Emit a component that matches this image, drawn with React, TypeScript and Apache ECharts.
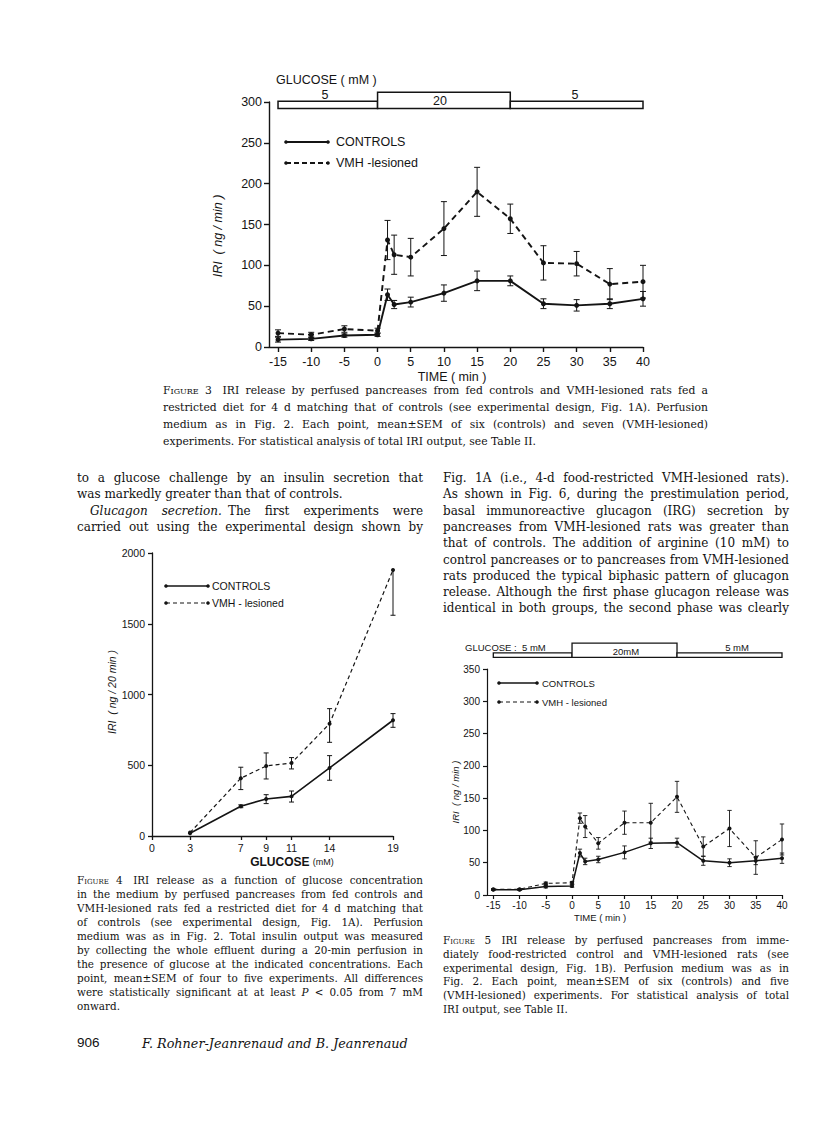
import React, { useEffect, useRef } from "react";
import * as echarts from "echarts";

// ---------------- Figure 3 data ----------------
const fig3Time = [-15, -10, -5, 0, 1.5, 2.5, 5, 10, 15, 20, 25, 30, 35, 40];
const fig3Controls = [9, 10, 14, 15, 64, 52, 55, 66, 81, 81, 53, 51, 53, 59];
const fig3ControlsSem = [3, 2, 2, 2, 7, 5, 6, 10, 12, 6, 6, 7, 6, 9];
const fig3Vmh = [17, 15, 22, 20, 131, 113, 110, 145, 190, 157, 103, 102, 77, 80];
const fig3VmhSem = [4, 3, 4, 3, 24, 24, 23, 33, 30, 18, 21, 15, 19, 20];
const fig3TimeTicks = [-15, -10, -5, 0, 5, 10, 15, 20, 25, 30, 35, 40];
const fig3GlucoseStart = [-15, 0, 20];
const fig3GlucoseEnd = [0, 20, 40];
const fig3GlucoseConc = [5, 20, 5];

// ---------------- Figure 4 data ----------------
const fig4Glucose = [3, 7, 9, 11, 14, 19];
const fig4GlucoseTicks = [0, 3, 7, 9, 11, 14, 19];
const fig4Controls = [20, 210, 262, 280, 481, 818];
const fig4ControlsSemLow = [0, 10, 33, 40, 87, 50];
const fig4ControlsSemHigh = [0, 10, 30, 38, 87, 47];
const fig4Vmh = [24, 408, 495, 516, 794, 1880];
const fig4VmhSemLow = [0, 80, 92, 42, 132, 320];
const fig4VmhSemHigh = [0, 78, 92, 38, 106, 0];

// ---------------- Figure 5 data ----------------
const fig5Time = [-15, -10, -5, 0, 1.5, 2.5, 5, 10, 15, 20, 25, 30, 35, 40];
const fig5Controls = [8, 8, 13, 14, 65, 52, 55, 66, 80, 81, 53, 50, 53, 57];
const fig5ControlsSem = [1, 1, 2, 2, 6, 5, 5, 10, 8, 7, 7, 6, 6, 8];
const fig5Vmh = [9, 9, 18, 19, 119, 106, 80, 112, 112, 152, 75, 103, 58, 86];
const fig5VmhSem = [1, 1, 2, 2, 8, 17, 9, 18, 30, 24, 15, 28, 26, 24];
const fig5TimeTicks = [-15, -10, -5, 0, 5, 10, 15, 20, 25, 30, 35, 40];
const fig5GlucoseStart = [-15, 0, 20];
const fig5GlucoseEnd = [0, 20, 40];
const fig5GlucoseConc = [5, 20, 5];

// ---------------- Page constants ----------------
const W = 816;
const H = 1127;
const SANS = '"Liberation Sans", Arial, sans-serif';
const NARROW = '"Liberation Sans Narrow", "Liberation Sans", Arial, sans-serif';
const SERIF = '"DejaVu Serif", "Liberation Serif", serif';
const INK = "#141414";

function errRender(capHalf: number, lw: number) {
  return (params: any, api: any) => {
    const x = api.value(0);
    const lo = api.value(1);
    const hi = api.value(2);
    const v = api.value(3);
    const pl = api.coord([x, lo]);
    const ph = api.coord([x, hi]);
    const st = { stroke: INK, lineWidth: lw };
    const ch: any[] = [];
    if (hi > lo) {
      ch.push({ type: "line", shape: { x1: pl[0], y1: pl[1], x2: ph[0], y2: ph[1] }, style: st });
    }
    if (hi > v) ch.push({ type: "line", shape: { x1: ph[0] - capHalf, y1: ph[1], x2: ph[0] + capHalf, y2: ph[1] }, style: st });
    if (lo < v) ch.push({ type: "line", shape: { x1: pl[0] - capHalf, y1: pl[1], x2: pl[0] + capHalf, y2: pl[1] }, style: st });
    return { type: "group", children: ch };
  };
}

function barRender(bottom: number, lowTop: number, highTop: number, lw: number) {
  return (params: any, api: any) => {
    const x0 = api.value(0);
    const x1 = api.value(1);
    const c = api.value(2);
    const top = c > 10 ? highTop : lowTop;
    const p0 = api.coord([x0, top]);
    const p1 = api.coord([x1, bottom]);
    return {
      type: "rect",
      shape: { x: p0[0], y: p0[1], width: p1[0] - p0[0], height: p1[1] - p0[1] },
      style: { fill: "#fff", stroke: INK, lineWidth: lw },
    };
  };
}

function txt(x: number, y: number, text: string, fs: number, opts: any = {}) {
  return {
    type: "text",
    x,
    y,
    z: 100,
    rotation: opts.rotation || 0,
    style: {
      text,
      fontSize: fs,
      fontFamily: opts.family || SANS,
      fontStyle: opts.italic ? "italic" : "normal",
      fontWeight: opts.weight || "normal",
      fill: INK,
      align: opts.align || "left",
      verticalAlign: "middle",
      textAlign: opts.align || "left",
      textVerticalAlign: "middle",
    },
  };
}

function legendItem(x1: number, x2: number, y: number, dashed: boolean, label: string, fs: number, lw: number, dash: number[], family: string, gap: number) {
  return [
    { type: "line", z: 100, shape: { x1, y1: y, x2, y2: y }, style: { stroke: INK, lineWidth: lw, lineDash: dashed ? dash : null } },
    { type: "circle", z: 100, shape: { cx: x1, cy: y, r: 1.8 }, style: { fill: INK } },
    { type: "circle", z: 100, shape: { cx: x2, cy: y, r: 1.8 }, style: { fill: INK } },
    txt(x2 + gap, y, label, fs, { family }),
  ];
}

function axisBase(gridIndex: number, fs: number, family: string, tickLen: number, margin: number, lw: number) {
  return {
    gridIndex,
    axisLine: { show: true, onZero: false, lineStyle: { color: INK, width: lw } },
    axisTick: { show: true, length: tickLen, lineStyle: { color: INK, width: lw } },
    axisLabel: { fontSize: fs, margin, color: INK, fontFamily: family, formatter: (v: number) => String(v) },
    splitLine: { show: false },
  };
}

function buildOption(): any {
  const x0: any = axisBase(0, 12.5, SANS, 5, 8, 1.4);
  Object.assign(x0, { type: "value", min: -16.36, max: 40 });
  x0.axisTick.customValues = fig3TimeTicks;
  x0.axisLabel.customValues = fig3TimeTicks;

  const y0: any = axisBase(0, 12.5, SANS, 5, 7, 1.4);
  Object.assign(y0, { type: "value", min: 0, max: 300, interval: 50 });

  const x1: any = axisBase(1, 10.5, NARROW, 4, 6, 1.3);
  Object.assign(x1, { type: "value", min: 0, max: 19 });
  x1.axisTick.customValues = fig4GlucoseTicks;
  x1.axisLabel.customValues = fig4GlucoseTicks;

  const y1: any = axisBase(1, 10.5, NARROW, 4, 7, 1.3);
  Object.assign(y1, { type: "value", min: 0, max: 2000, interval: 500 });

  const x2: any = axisBase(2, 10, NARROW, 4, 5, 1.2);
  Object.assign(x2, { type: "value", min: -16.2, max: 40 });
  x2.axisTick.customValues = fig5TimeTicks;
  x2.axisLabel.customValues = fig5TimeTicks;

  const y2: any = axisBase(2, 10, NARROW, 4, 7, 1.2);
  Object.assign(y2, { type: "value", min: 0, max: 350, interval: 50 });

  const lineSeries = (xi: number, xs: number[], ys: number[], dashed: boolean, lw: number, dash: number[], sym: number) => ({
    type: "line",
    xAxisIndex: xi,
    yAxisIndex: xi,
    data: xs.map((x, i) => [x, ys[i]]),
    symbol: "circle",
    symbolSize: sym,
    itemStyle: { color: INK },
    lineStyle: { color: INK, width: lw, type: dashed ? dash : "solid" },
    silent: true,
    z: 3,
  });

  const errSeries = (xi: number, xs: number[], ys: number[], lo: number[], hi: number[], cap: number, lw: number) => ({
    type: "custom",
    xAxisIndex: xi,
    yAxisIndex: xi,
    renderItem: errRender(cap, lw),
    data: xs.map((x, i) => [x, ys[i] - lo[i], ys[i] + hi[i], ys[i]]),
    encode: { x: 0, y: [1, 2] },
    silent: true,
    z: 2,
  });

  const barSeries = (xi: number, s: number[], e: number[], c: number[], bottom: number, lowTop: number, highTop: number, lw: number) => ({
    type: "custom",
    xAxisIndex: xi,
    yAxisIndex: xi,
    clip: false,
    renderItem: barRender(bottom, lowTop, highTop, lw),
    data: s.map((v, i) => [v, e[i], c[i]]),
    encode: { x: [0, 1], y: 2 },
    silent: true,
    z: 1,
  });

  const graphics: any[] = [
    // Figure 3 annotations
    txt(276, 80, "GLUCOSE ( mM )", 12.5),
    txt(325, 95, "5", 12.5, { align: "center" }),
    txt(440, 101, "20", 12.5, { align: "center" }),
    txt(575, 95, "5", 12.5, { align: "center" }),
    txt(218, 236, "IRI  ( ng / min )", 12.5, { italic: true, align: "center", rotation: Math.PI / 2 }),
    txt(452, 377, "TIME ( min )", 12.5, { align: "center" }),
    ...legendItem(286, 328, 142, false, "CONTROLS", 12.5, 1.8, [5, 3], SANS, 8),
    ...legendItem(286, 328, 163, true, "VMH -lesioned", 12.5, 1.8, [5, 3], SANS, 8),
    // Figure 4 annotations
    txt(112, 692, "IRI  ( ng / 20 min )", 10.5, { italic: true, align: "center", rotation: Math.PI / 2, family: NARROW }),
    {
      type: "text",
      x: 292,
      y: 862,
      z: 100,
      style: {
        text: "{a|GLUCOSE} {b|(mM)}",
        fill: INK,
        align: "center",
        verticalAlign: "middle",
        textAlign: "center",
        textVerticalAlign: "middle",
        rich: {
          a: { fontSize: 12, fontFamily: SANS, fontWeight: "bold", fill: INK },
          b: { fontSize: 9, fontFamily: SANS, fill: INK },
        },
      },
    },
    ...legendItem(166, 208, 586, false, "CONTROLS", 10.5, 1.5, [4, 3], NARROW, 4),
    ...legendItem(166, 208, 603, true, "VMH - lesioned", 10.5, 1.2, [4, 3], NARROW, 4),
    // Figure 5 annotations
    txt(465, 647, "GLUCOSE :  5 mM", 9.5, { family: NARROW }),
    txt(626, 651, "20mM", 9.5, { align: "center", family: NARROW }),
    txt(737, 647, "5 mM", 9.5, { align: "center", family: NARROW }),
    txt(455, 792, "IRI  ( ng / min )", 9.5, { italic: true, align: "center", rotation: Math.PI / 2, family: NARROW }),
    txt(600, 917, "TIME ( min )", 9.5, { align: "center", family: NARROW }),
    ...legendItem(499, 537, 683, false, "CONTROLS", 9.5, 1.3, [4, 3], NARROW, 5),
    ...legendItem(499, 537, 702, true, "VMH - lesioned", 9.5, 1.1, [4, 3], NARROW, 5),
  ];

  return {
    animation: false,
    backgroundColor: "transparent",
    grid: [
      { left: 269, top: 102, width: 374, height: 245 },
      { left: 152, top: 553, width: 241, height: 283 },
      { left: 487, top: 669, width: 295, height: 226 },
    ],
    xAxis: [x0, x1, x2],
    yAxis: [y0, y1, y2],
    series: [
      barSeries(0, fig3GlucoseStart, fig3GlucoseEnd, fig3GlucoseConc, 292, 301, 312, 1.5),
      errSeries(0, fig3Time, fig3Controls, fig3ControlsSem, fig3ControlsSem, 3, 1),
      errSeries(0, fig3Time, fig3Vmh, fig3VmhSem, fig3VmhSem, 3, 1),
      lineSeries(0, fig3Time, fig3Controls, false, 1.9, [6, 4], 5),
      lineSeries(0, fig3Time, fig3Vmh, true, 1.9, [6, 4], 5),

      errSeries(1, fig4Glucose, fig4Controls, fig4ControlsSemLow, fig4ControlsSemHigh, 2.5, 1),
      errSeries(1, fig4Glucose, fig4Vmh, fig4VmhSemLow, fig4VmhSemHigh, 2.5, 1),
      lineSeries(1, fig4Glucose, fig4Controls, false, 1.6, [4, 3], 4),
      lineSeries(1, fig4Glucose, fig4Vmh, true, 1.2, [4, 3], 4),

      barSeries(2, fig5GlucoseStart, fig5GlucoseEnd, fig5GlucoseConc, 368, 375, 390, 1.3),
      errSeries(2, fig5Time, fig5Controls, fig5ControlsSem, fig5ControlsSem, 2.2, 0.9),
      errSeries(2, fig5Time, fig5Vmh, fig5VmhSem, fig5VmhSem, 2.2, 0.9),
      lineSeries(2, fig5Time, fig5Controls, false, 1.5, [4, 3], 4),
      lineSeries(2, fig5Time, fig5Vmh, true, 1.1, [4, 3], 4),
    ],
    graphic: graphics,
  };
}

type LineProps = { x: number; y: number; w: number; fs: number; justify?: boolean; indent?: number; family?: string; children: any };

function Line({ x, y, w, fs, justify = true, indent = 0, family = SERIF, children }: LineProps) {
  const lh = Math.round(fs * 1.3);
  return (
    <div
      style={{
        position: "absolute",
        left: x + indent,
        top: y - lh / 2,
        width: w - indent,
        fontSize: fs,
        lineHeight: `${lh}px`,
        height: lh,
        fontFamily: family,
        color: "#111",
        textAlign: justify ? "justify" : "left",
        textAlignLast: justify ? "justify" : "left",
        whiteSpace: "nowrap",
      } as any}
    >
      {children}
    </div>
  );
}

const SC = ({ children }: any) => <span style={{ fontVariant: "small-caps" }}>{children}</span>;

export default function App() {
  const ref = useRef<HTMLDivElement>(null);
  useEffect(() => {
    const chart = echarts.init(ref.current as HTMLDivElement, null, { renderer: "svg" });
    chart.setOption(buildOption());
    return () => chart.dispose();
  }, []);

  const capFs = 10.4;
  const cap3Fs = 10.8;
  const bodyFs = 12.0;

  const c3x = 163;
  const c3w = 545;
  const c3y = (k: number) => 391 + k * 17;

  const bodyY = (k: number) => 478 + k * 16.3;
  const c4y = (k: number) => 880 + k * 14;
  const c5y = (k: number) => 940 + k * 13.8;

  return (
    <div style={{ position: "absolute", left: 0, top: 0, width: W, height: H, background: "#fff", overflow: "hidden" }}>
      <div ref={ref} style={{ position: "absolute", left: 0, top: 0, width: W, height: H }} />

      {/* Figure 3 caption */}
      <Line x={c3x} y={c3y(0)} w={c3w} fs={cap3Fs}><SC>Figure 3</SC>{"\u2003IRI release by perfused pancreases from fed controls and VMH-lesioned rats fed a"}</Line>
      <Line x={c3x} y={c3y(1)} w={c3w} fs={cap3Fs}>restricted diet for 4 d matching that of controls (see experimental design, Fig. 1A). Perfusion</Line>
      <Line x={c3x} y={c3y(2)} w={c3w} fs={cap3Fs}>medium as in Fig. 2. Each point, mean±SEM of six (controls) and seven (VMH-lesioned)</Line>
      <Line x={c3x} y={c3y(3)} w={c3w} fs={cap3Fs} justify={false}>experiments. For statistical analysis of total IRI output, see Table II.</Line>

      {/* Left column body text */}
      <Line x={77} y={bodyY(0)} w={346} fs={bodyFs}>to a glucose challenge by an insulin secretion that</Line>
      <Line x={77} y={bodyY(1)} w={346} fs={bodyFs} justify={false}>was markedly greater than that of controls.</Line>
      <Line x={77} y={bodyY(2)} w={346} fs={bodyFs} indent={13}><i>Glucagon secretion.</i>{"\u2002The first experiments were"}</Line>
      <Line x={77} y={bodyY(3)} w={346} fs={bodyFs}>carried out using the experimental design shown by</Line>

      {/* Right column body text */}
      <Line x={443} y={bodyY(0)} w={346} fs={bodyFs}>Fig. 1A (i.e., 4-d food-restricted VMH-lesioned rats).</Line>
      <Line x={443} y={bodyY(1)} w={346} fs={bodyFs}>As shown in Fig. 6, during the prestimulation period,</Line>
      <Line x={443} y={bodyY(2)} w={346} fs={bodyFs}>basal immunoreactive glucagon (IRG) secretion by</Line>
      <Line x={443} y={bodyY(3)} w={346} fs={bodyFs}>pancreases from VMH-lesioned rats was greater than</Line>
      <Line x={443} y={bodyY(4)} w={346} fs={bodyFs}>that of controls. The addition of arginine (10 mM) to</Line>
      <Line x={443} y={bodyY(5)} w={346} fs={bodyFs}>control pancreases or to pancreases from VMH-lesioned</Line>
      <Line x={443} y={bodyY(6)} w={346} fs={bodyFs}>rats produced the typical biphasic pattern of glucagon</Line>
      <Line x={443} y={bodyY(7)} w={346} fs={bodyFs}>release. Although the first phase glucagon release was</Line>
      <Line x={443} y={bodyY(8)} w={346} fs={bodyFs}>identical in both groups, the second phase was clearly</Line>

      {/* Figure 4 caption */}
      <Line x={77} y={c4y(0)} w={346} fs={capFs}><SC>Figure 4</SC>{"\u2003IRI release as a function of glucose concentration"}</Line>
      <Line x={77} y={c4y(1)} w={346} fs={capFs}>in the medium by perfused pancreases from fed controls and</Line>
      <Line x={77} y={c4y(2)} w={346} fs={capFs}>VMH-lesioned rats fed a restricted diet for 4 d matching that</Line>
      <Line x={77} y={c4y(3)} w={346} fs={capFs}>of controls (see experimental design, Fig. 1A). Perfusion</Line>
      <Line x={77} y={c4y(4)} w={346} fs={capFs}>medium was as in Fig. 2. Total insulin output was measured</Line>
      <Line x={77} y={c4y(5)} w={346} fs={capFs}>by collecting the whole effluent during a 20-min perfusion in</Line>
      <Line x={77} y={c4y(6)} w={346} fs={capFs}>the presence of glucose at the indicated concentrations. Each</Line>
      <Line x={77} y={c4y(7)} w={346} fs={capFs}>point, mean±SEM of four to five experiments. All differences</Line>
      <Line x={77} y={c4y(8)} w={346} fs={capFs}>were statistically significant at at least <i>P</i> {"<"} 0.05 from 7 mM</Line>
      <Line x={77} y={c4y(9)} w={346} fs={capFs} justify={false}>onward.</Line>

      {/* Figure 5 caption */}
      <Line x={443} y={c5y(0)} w={346} fs={capFs}><SC>Figure 5</SC>{"\u2003IRI release by perfused pancreases from imme-"}</Line>
      <Line x={443} y={c5y(1)} w={346} fs={capFs}>diately food-restricted control and VMH-lesioned rats (see</Line>
      <Line x={443} y={c5y(2)} w={346} fs={capFs}>experimental design, Fig. 1B). Perfusion medium was as in</Line>
      <Line x={443} y={c5y(3)} w={346} fs={capFs}>Fig. 2. Each point, mean±SEM of six (controls) and five</Line>
      <Line x={443} y={c5y(4)} w={346} fs={capFs}>(VMH-lesioned) experiments. For statistical analysis of total</Line>
      <Line x={443} y={c5y(5)} w={346} fs={capFs} justify={false}>IRI output, see Table II.</Line>

      {/* Footer */}
      <Line x={77} y={1043} w={60} fs={13.5} justify={false} family={SANS}>906</Line>
      <Line x={142} y={1043} w={300} fs={12.8} justify={false}><i>F. Rohner-Jeanrenaud and B. Jeanrenaud</i></Line>
    </div>
  );
}
